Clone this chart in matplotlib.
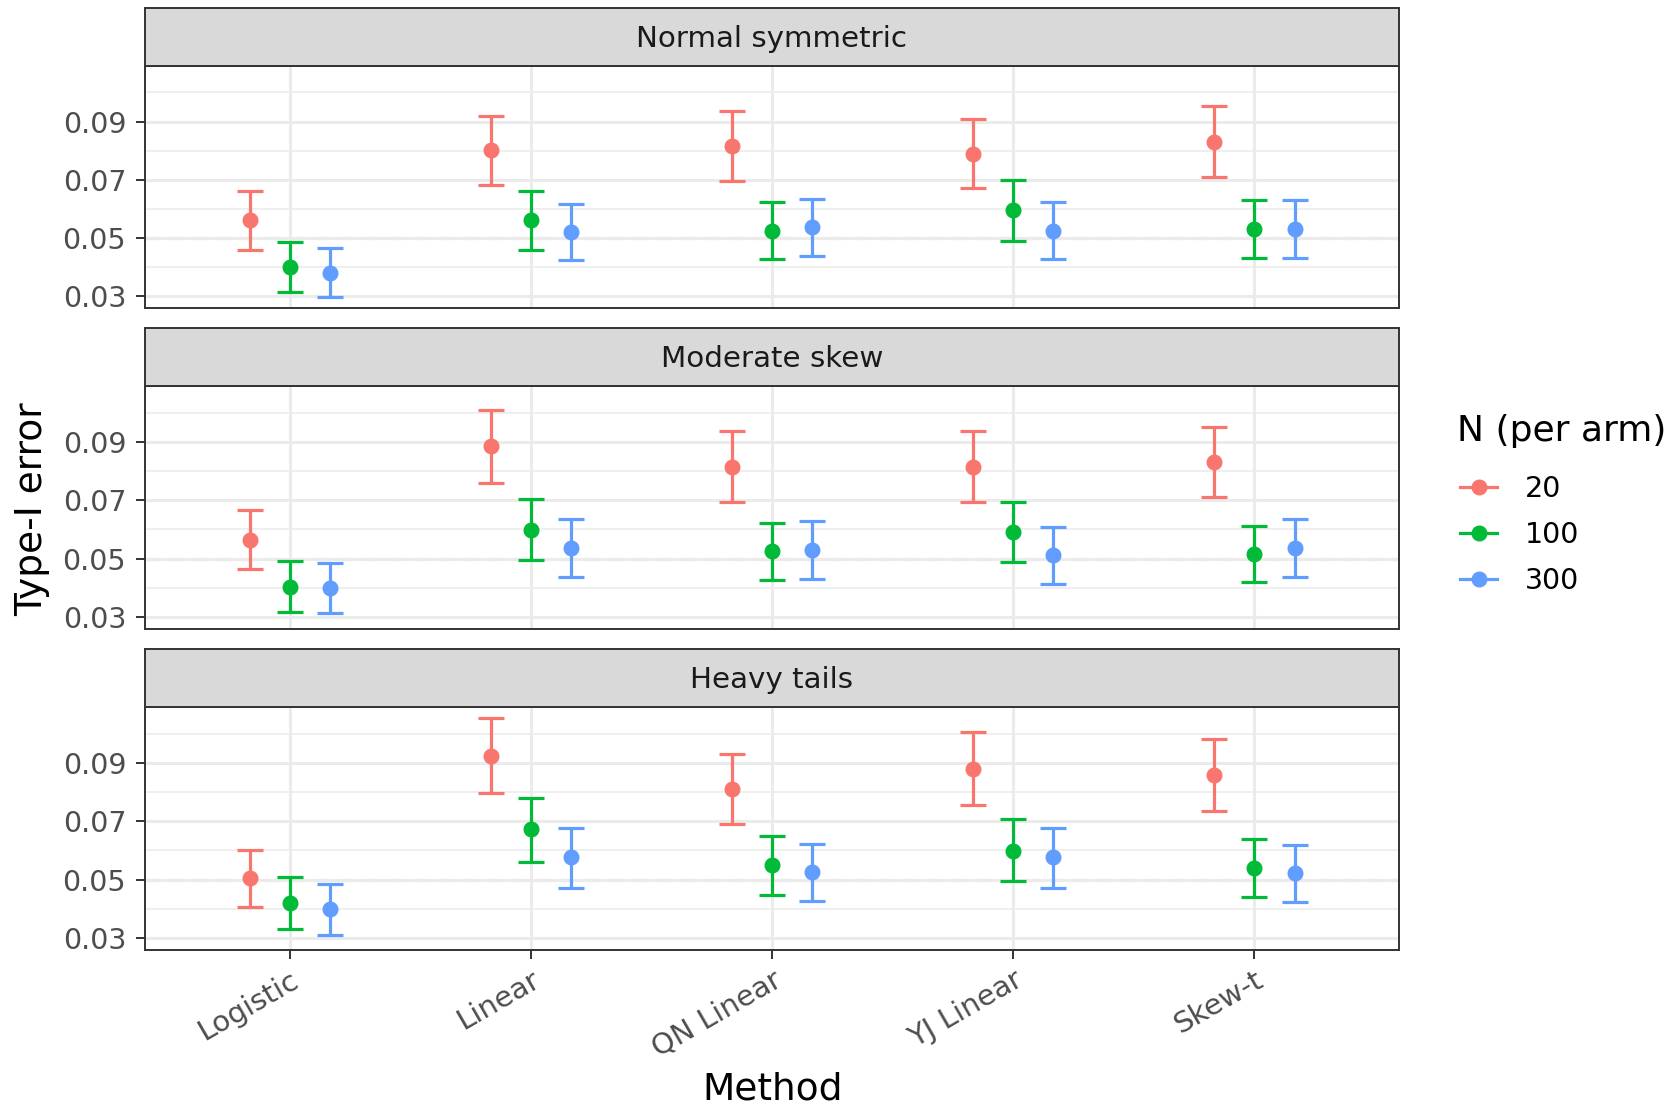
import matplotlib
matplotlib.use("Agg")
import matplotlib.pyplot as plt
from matplotlib.lines import Line2D
import numpy as np

methods = ["Logistic", "Linear", "QN Linear", "YJ Linear", "Skew-t"]
panels = ["Normal symmetric", "Moderate skew", "Heavy tails"]
n_levels = ["20", "100", "300"]
colors = ["#F8766D", "#00BA38", "#619CFF"]

# estimates [panel][N][method]
est_normal = [[0.0560, 0.0801, 0.0815, 0.0789, 0.0831],
              [0.0399, 0.0560, 0.0525, 0.0595, 0.0531],
              [0.0380, 0.0521, 0.0537, 0.0524, 0.0531]]
lo_normal = [[0.0459, 0.0681, 0.0695, 0.0673, 0.0709],
             [0.0315, 0.0459, 0.0428, 0.0491, 0.0431],
             [0.0297, 0.0423, 0.0437, 0.0428, 0.0431]]
hi_normal = [[0.0662, 0.0920, 0.0935, 0.0909, 0.0953],
             [0.0486, 0.0662, 0.0623, 0.0700, 0.0629],
             [0.0464, 0.0618, 0.0634, 0.0623, 0.0629]]

est_skew = [[0.0564, 0.0885, 0.0815, 0.0815, 0.0831],
            [0.0403, 0.0599, 0.0526, 0.0590, 0.0517],
            [0.0399, 0.0535, 0.0531, 0.0511, 0.0535]]
lo_skew = [[0.0463, 0.0760, 0.0694, 0.0694, 0.0710],
           [0.0318, 0.0495, 0.0428, 0.0488, 0.0419],
           [0.0314, 0.0436, 0.0431, 0.0414, 0.0436]]
hi_skew = [[0.0666, 0.1010, 0.0936, 0.0936, 0.0952],
           [0.0492, 0.0705, 0.0623, 0.0694, 0.0613],
           [0.0486, 0.0634, 0.0628, 0.0608, 0.0634]]

est_heavy = [[0.0506, 0.0924, 0.0810, 0.0879, 0.0858],
             [0.0419, 0.0672, 0.0550, 0.0598, 0.0540],
             [0.0399, 0.0576, 0.0527, 0.0576, 0.0523]]
lo_heavy = [[0.0407, 0.0797, 0.0690, 0.0755, 0.0736],
            [0.0332, 0.0560, 0.0449, 0.0495, 0.0440],
            [0.0312, 0.0472, 0.0428, 0.0472, 0.0423]]
hi_heavy = [[0.0601, 0.1053, 0.0930, 0.1004, 0.0982],
            [0.0508, 0.0779, 0.0650, 0.0706, 0.0639],
            [0.0485, 0.0677, 0.0622, 0.0677, 0.0618]]

panel_data = [(est_normal, lo_normal, hi_normal),
              (est_skew, lo_skew, hi_skew),
              (est_heavy, lo_heavy, hi_heavy)]

reference_line = 0.05
y_major = [0.03, 0.05, 0.07, 0.09]
y_minor = [0.04, 0.06, 0.08, 0.10]

W, H = 1671, 1110
fig = plt.figure(figsize=(W / 100, H / 100), dpi=100)

left_px, right_px = 145, 1399
axes_px = [(66, 308), (386, 629), (707, 950)]
strip_h = 58

dodge = [-1 / 6, 0, 1 / 6]
x = np.arange(1, len(methods) + 1)

# y limits from data with 5% expansion (ggplot-like)
all_lo = min(min(min(r) for r in d[1]) for d in panel_data)
all_hi = max(max(max(r) for r in d[2]) for d in panel_data)
rng = all_hi - all_lo
ylim = (all_lo - 0.05 * rng, all_hi + 0.05 * rng)

dark = "#333333"
for pi, (top, bot) in enumerate(axes_px):
    ax = fig.add_axes([left_px / W, 1 - bot / H, (right_px - left_px) / W, (bot - top) / H])
    est, lo, hi = panel_data[pi]
    ax.set_xlim(0.4, len(methods) + 0.6)
    ax.set_ylim(*ylim)
    ax.set_yticks(y_major)
    ax.set_yticks(y_minor, minor=True)
    ax.set_xticks(x)
    ax.grid(True, which="major", color="#EBEBEB", linewidth=2.2, zorder=0)
    ax.grid(True, which="minor", axis="y", color="#EBEBEB", linewidth=1.1, zorder=0)
    ax.axhline(reference_line, color="#7F7F7F", linestyle=(0, (4, 4)), linewidth=2.2, zorder=1)
    for gi in range(3):
        xs = x + dodge[gi]
        e = np.array(est[gi]); l = np.array(lo[gi]); h = np.array(hi[gi])
        ax.errorbar(xs, e, yerr=[e - l, h - e], fmt="o", color=colors[gi],
                    markersize=10.5, elinewidth=2.3, capsize=9.5, capthick=2.3, zorder=3)
    ax.set_yticklabels([f"{v:.2f}" for v in y_major])
    ax.tick_params(axis="y", which="major", length=6.5, width=1.4, color=dark,
                   labelsize=20.5, labelcolor="#4D4D4D", pad=7)
    ax.tick_params(axis="y", which="minor", length=0)
    if pi < 2:
        ax.tick_params(axis="x", length=0, labelbottom=False)
    else:
        ax.tick_params(axis="x", length=6.5, width=1.4, color=dark, labelsize=21,
                       labelcolor="#4D4D4D", pad=5)
        ax.set_xticklabels(methods, rotation=30, ha="right", va="top", rotation_mode="anchor")
    for s in ax.spines.values():
        s.set_color(dark)
        s.set_linewidth(1.4)
    # strip
    sax = fig.add_axes([left_px / W, 1 - top / H, (right_px - left_px) / W, strip_h / H])
    sax.set_facecolor("#D9D9D9")
    sax.set_xticks([]); sax.set_yticks([])
    for s in sax.spines.values():
        s.set_color(dark)
        s.set_linewidth(1.4)
    sax.text(0.5, 0.47, panels[pi], ha="center", va="center", fontsize=21.2,
             color="#1A1A1A", transform=sax.transAxes)

fig.text(32 / W, 1 - 509 / H, "Type-I error", rotation=90, ha="center", va="center", fontsize=27)
fig.text(773 / W, 1 - 1089 / H, "Method", ha="center", va="center", fontsize=27)

# legend
fig.text(1457 / W, 1 - 431 / H, "N (per arm)", ha="left", va="center", fontsize=26)
handles = [Line2D([0], [0], color=c, marker="o", markersize=10.5, linewidth=2.3) for c in colors]
leg = fig.legend(handles, n_levels, loc="center left",
                 bbox_to_anchor=(1449 / W, 1 - 535 / H), frameon=False, borderaxespad=0,
                 fontsize=20.5, handlelength=1.3, handletextpad=0.95,
                 labelspacing=0.62)

fig.savefig("out.png", dpi=100, facecolor="white")
